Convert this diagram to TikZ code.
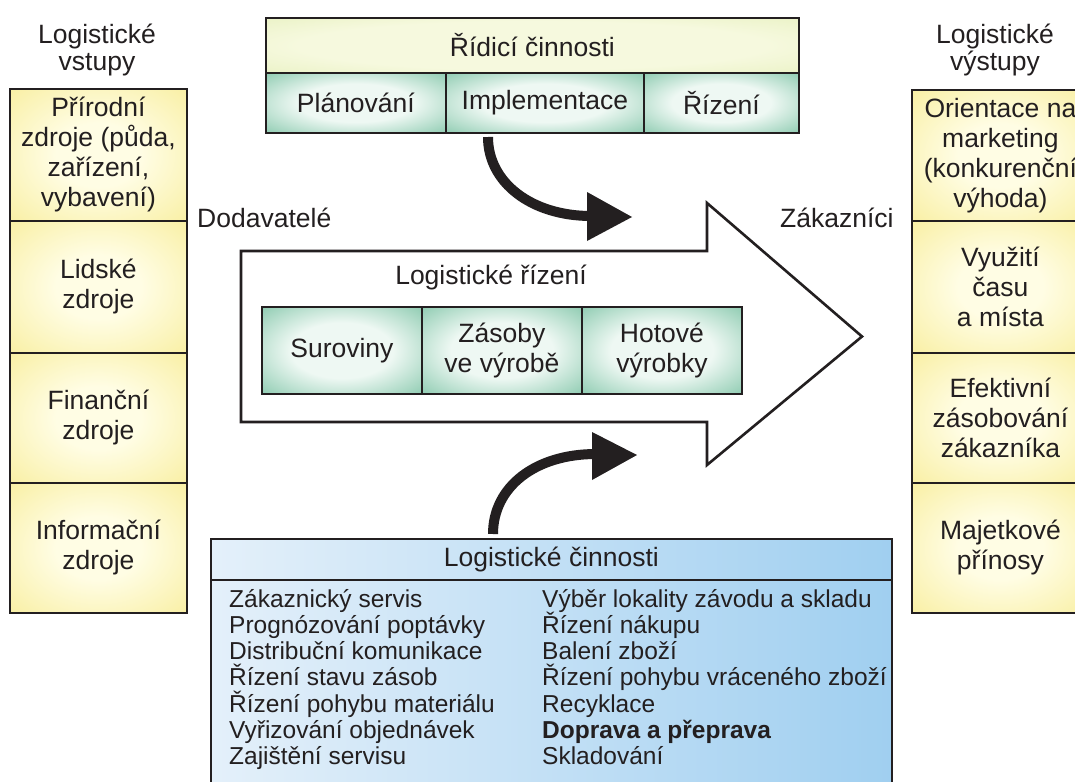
\documentclass[tikz,border=0pt]{standalone}
\usepackage{fontspec}
\setmainfont{Liberation Sans}
\definecolor{yin}{RGB}{255,253,228}
\definecolor{yout}{RGB}{245,231,125}
\definecolor{tin}{RGB}{238,248,243}
\definecolor{tout}{RGB}{88,178,140}
\definecolor{gin}{RGB}{246,249,222}
\definecolor{gout}{RGB}{222,235,172}
\definecolor{bleft}{RGB}{228,240,250}
\definecolor{bright}{RGB}{160,207,240}
\definecolor{ink}{RGB}{35,31,32}
\pgfdeclareradialshading{yrad}{\pgfpoint{0bp}{0bp}}{color(0bp)=(yin); color(12bp)=(yin); color(50bp)=(yout); color(70bp)=(yout)}
\pgfdeclareradialshading{trad}{\pgfpoint{0bp}{0bp}}{color(0bp)=(tin); color(16bp)=(tin); color(47bp)=(tout); color(70bp)=(tout)}
\pgfdeclareradialshading{grad}{\pgfpoint{0bp}{0bp}}{color(0bp)=(gin); color(22bp)=(gin); color(52bp)=(gout); color(70bp)=(gout)}
\begin{document}
\begin{tikzpicture}[x=1pt,y=-1pt,
  lab/.style={font=\fontsize{26.5}{30}\selectfont, text=ink, align=center, inner sep=0pt},
  lst/.style={font=\fontsize{24.5}{26.5}\selectfont, text=ink, anchor=base west, inner sep=0pt},
  frame/.style={draw=ink, line width=1.8pt},
  ycell/.style={frame, shading=yrad, anchor=north west, minimum width=177, lab},
  tcell/.style={frame, shading=trad, anchor=north west, lab},
  bcell/.style={frame, left color=bleft, right color=bright, anchor=north west, minimum width=681, lab},
  bigarrow/.style={draw=ink, line width=2.6pt, fill=white},
  curvearrow/.style={draw=ink, line width=10pt},
  headtri/.style={fill=ink},
]
\useasboundingbox (0,0) rectangle (1075,781);
\clip (0,0) rectangle (1075,781);
\fill[white] (0,0) rectangle (1075,781);

% headers
\node[lab] (hin) at (97,50) {Logistické\\[-3pt]vstupy};
\node[lab] (hout) at (995,50) {Logistické\\[-3pt]výstupy};

% left column
\node[ycell, minimum height=132] (in1) at (9,88) {Přírodní\\zdroje (půda,\\zařízení,\\vybavení)};
\node[ycell, minimum height=132] (in2) at (9,220) {Lidské\\zdroje};
\node[ycell, minimum height=130] (in3) at (9,352) {Finanční\\zdroje};
\node[ycell, minimum height=130] (in4) at (9,482) {Informační\\zdroje};

% right column
\node[ycell, minimum height=131] (out1) at (911,89) {Orientace na\\marketing\\(konkurenční\\výhoda)};
\node[ycell, minimum height=132] (out2) at (911,220) {Využití\\času\\a místa};
\node[ycell, minimum height=130] (out3) at (911,352) {Efektivní\\zásobování\\zákazníka};
\node[ycell, minimum height=130] (out4) at (911,482) {Majetkové\\přínosy};

% top box
\node[frame, shading=grad, anchor=north west, minimum width=533, minimum height=55, lab] (rid) at (265,17) {Řídicí činnosti};
\node[tcell, minimum width=180, minimum height=60] (plan) at (265,72) {Plánování};
\node[tcell, minimum width=198, minimum height=60] (impl) at (445,72) {Implementace};
\node[tcell, minimum width=155, minimum height=60] (riz) at (643,72) {Řízení};

% main arrow
\draw[bigarrow] (241,251) -- (707,251) -- (707,203) -- (862,336.5) -- (707,465) -- (707,422) -- (241,422) -- cycle;
\node[lab] (lr) at (491,277) {Logistické řízení};
\node[tcell, minimum width=160, minimum height=87] (sur) at (261,306) {Suroviny};
\node[tcell, minimum width=160, minimum height=87] (zas) at (421,306) {Zásoby\\ve výrobě};
\node[tcell, minimum width=160, minimum height=87] (hot) at (581,306) {Hotové\\výrobky};

\node[lab, anchor=west] (dod) at (197,218) {Dodavatelé};
\node[lab, anchor=west] (zak) at (780,218) {Zákazníci};

% bottom box
\node[bcell, minimum height=41] (lc) at (210,538) {Logistické činnosti};
\node[bcell, minimum height=230] (lcb) at (210,579) {};

\foreach \t [count=\i from 0] in {Zákaznický servis, Prognózování poptávky, Distribuční komunikace, Řízení stavu zásob, Řízení pohybu materiálu, Vyřizování objednávek, Zajištění servisu}
  \node[lst] (l\i) at (229,607+26.3*\i) {\t};
\foreach \t [count=\i from 0] in {Výběr lokality závodu a skladu, Řízení nákupu, Balení zboží, Řízení pohybu vráceného zboží, Recyklace, \textbf{Doprava a přeprava}, Skladování}
  \node[lst] (r\i) at (542,607+26.3*\i) {\t};

% curved arrows
\coordinate (a1s) at (488,137);
\coordinate (a1e) at (591,216);
\draw[curvearrow] (a1s) .. controls (488,183) and (532,216) .. (a1e);
\fill[headtri] (587,192) -- (632,217) -- (587,241) -- cycle;

\coordinate (a2s) at (493,534);
\coordinate (a2e) at (596,454);
\draw[curvearrow] (a2s) .. controls (493,487) and (535,454) .. (a2e);
\fill[headtri] (592,432) -- (637,455) -- (592,480) -- cycle;
\end{tikzpicture}
\end{document}
